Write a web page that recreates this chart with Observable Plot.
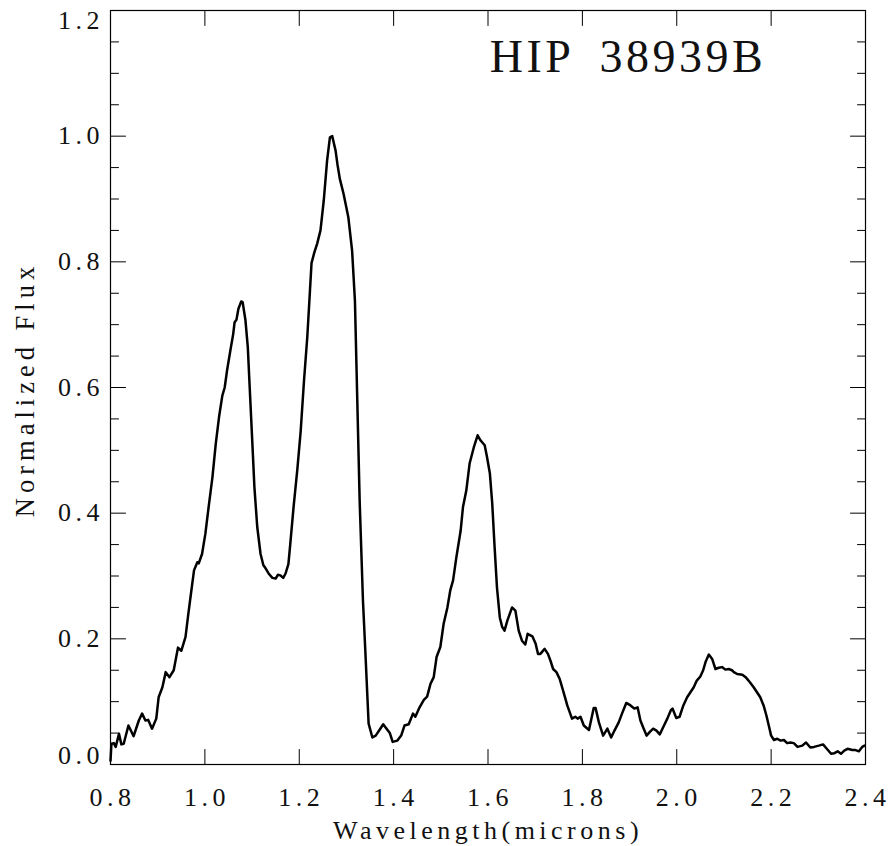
<!DOCTYPE html>
<html><head><meta charset="utf-8">
<script src="https://cdn.jsdelivr.net/npm/d3@7"></script>
<script src="https://cdn.jsdelivr.net/npm/@observablehq/plot@0.6"></script>
<style>
body{margin:0;background:#fff;}
#chart svg text{font-family:"Liberation Serif",serif;letter-spacing:4.5px;}
#chart svg g[font-size="46"] text{letter-spacing:3.5px;word-spacing:12px;}
#chart svg g[font-size="26.5"] text{letter-spacing:5px;}
</style></head><body><div id="chart"></div><script>
const wavelength = [
0.800,0.802,0.807,0.811,0.818,0.823,0.828,0.838,0.849,0.860,0.867,0.874,0.880,0.888,0.897,0.902,0.910,0.917,0.925,0.934,
0.943,0.950,0.959,0.965,0.970,0.977,0.984,0.987,0.994,1.001,1.008,1.016,1.023,1.030,1.037,1.042,1.047,1.054,1.060,1.063,
1.067,1.071,1.077,1.080,1.086,1.091,1.095,1.100,1.105,1.111,1.118,1.124,1.128,1.135,1.143,1.150,1.155,1.160,1.166,1.171,
1.177,1.181,1.188,1.196,1.203,1.210,1.217,1.222,1.226,1.232,1.238,1.245,1.252,1.259,1.265,1.270,1.277,1.281,1.286,1.294,
1.304,1.312,1.318,1.323,1.328,1.335,1.340,1.347,1.355,1.362,1.370,1.378,1.385,1.392,1.398,1.408,1.416,1.423,1.432,1.441,
1.446,1.455,1.464,1.471,1.478,1.485,1.491,1.499,1.506,1.514,1.520,1.526,1.533,1.542,1.547,1.554,1.561,1.570,1.578,1.584,
1.593,1.598,1.604,1.609,1.614,1.619,1.625,1.630,1.635,1.641,1.651,1.658,1.665,1.672,1.679,1.684,1.694,1.701,1.706,1.711,
1.720,1.727,1.732,1.738,1.745,1.752,1.759,1.768,1.778,1.785,1.790,1.796,1.803,1.814,1.824,1.828,1.835,1.844,1.853,1.861,
1.868,1.877,1.884,1.893,1.902,1.910,1.917,1.923,1.930,1.936,1.943,1.950,1.957,1.964,1.971,1.980,1.988,1.991,1.999,2.006,
2.014,2.022,2.029,2.036,2.042,2.050,2.056,2.061,2.068,2.075,2.082,2.089,2.096,2.103,2.110,2.117,2.121,2.128,2.139,2.146,
2.155,2.163,2.170,2.177,2.184,2.190,2.195,2.200,2.206,2.213,2.220,2.227,2.234,2.241,2.248,2.256,2.266,2.274,2.283,2.291,
2.301,2.310,2.318,2.327,2.334,2.341,2.348,2.355,2.362,2.372,2.379,2.386,2.393,2.398];
const flux = [
0.006,0.033,0.034,0.028,0.049,0.032,0.033,0.062,0.045,0.070,0.081,0.070,0.071,0.057,0.073,0.107,0.123,0.147,0.139,0.150,
0.186,0.181,0.203,0.240,0.269,0.309,0.322,0.320,0.335,0.367,0.410,0.457,0.510,0.553,0.587,0.600,0.627,0.659,0.685,0.704,
0.708,0.725,0.737,0.736,0.707,0.664,0.600,0.521,0.441,0.378,0.335,0.317,0.313,0.304,0.297,0.296,0.302,0.301,0.297,0.304,
0.319,0.351,0.410,0.470,0.530,0.610,0.680,0.745,0.798,0.815,0.829,0.850,0.898,0.961,0.998,1.000,0.977,0.955,0.932,0.908,
0.871,0.818,0.738,0.579,0.420,0.261,0.181,0.065,0.043,0.046,0.055,0.064,0.057,0.050,0.036,0.038,0.046,0.062,0.064,0.081,
0.076,0.091,0.103,0.108,0.128,0.139,0.171,0.187,0.224,0.250,0.277,0.293,0.330,0.372,0.410,0.436,0.479,0.505,0.524,0.516,
0.508,0.489,0.463,0.415,0.346,0.282,0.234,0.219,0.213,0.229,0.250,0.245,0.213,0.197,0.191,0.208,0.204,0.192,0.176,0.176,
0.184,0.176,0.166,0.152,0.147,0.136,0.118,0.094,0.073,0.076,0.073,0.076,0.062,0.055,0.090,0.090,0.067,0.046,0.057,0.043,
0.054,0.067,0.081,0.098,0.094,0.089,0.091,0.070,0.057,0.046,0.052,0.057,0.054,0.048,0.059,0.073,0.087,0.089,0.074,0.076,
0.094,0.107,0.115,0.123,0.133,0.140,0.150,0.163,0.175,0.168,0.152,0.154,0.155,0.151,0.152,0.150,0.147,0.144,0.143,0.139,
0.131,0.123,0.115,0.107,0.094,0.078,0.062,0.046,0.039,0.041,0.038,0.039,0.034,0.035,0.034,0.028,0.030,0.035,0.027,0.028,
0.030,0.032,0.025,0.017,0.018,0.021,0.017,0.022,0.025,0.023,0.023,0.021,0.028,0.030];
const xTicks = [0.8,1.0,1.2,1.4,1.6,1.8,2.0,2.2,2.4];
const xTickLabels = ["0.8","1.0","1.2","1.4","1.6","1.8","2.0","2.2","2.4"];
const yTicks = [0.0,0.2,0.4,0.6,0.8,1.0,1.2];
const yTickLabels = ["0.0","0.2","0.4","0.6","0.8","1.0","1.2"];
const yMinorTicks = [0.05,0.10,0.15,0.25,0.30,0.35,0.45,0.50,0.55,0.65,0.70,0.75,0.85,0.90,0.95,1.05,1.10,1.15];
const titleText = "HIP 38939B";
const xLabel = "Wavelength(microns)";
const yLabel = "Normalized Flux";

const spectrum = wavelength.map((w, i) => ({w, f: flux[i]}));
const tickShape = {draw(ctx, l) { ctx.moveTo(0, 0); ctx.lineTo(0, -l); }};
const tk = {anchor: "start", shape: tickShape, stroke: "#000", strokeWidth: 1};
const lastY = yTicks.length - 1;
const lbl = {fontSize: 26, fill: "#111"};

const chart = Plot.plot({
  width: 889, height: 846,
  marginLeft: 110, marginRight: 24, marginTop: 10, marginBottom: 82,
  x: {domain: [0.8, 2.4], axis: null},
  y: {domain: [0, 1.2], axis: null},
  style: {background: "#fff", color: "#000", fontFamily: "Liberation Serif"},
  marks: [
    Plot.vectorX(xTicks, {x: d => d, frameAnchor: "bottom", rotate: 0, length: 15, ...tk}),
    Plot.vectorX(xTicks, {x: d => d, frameAnchor: "top", rotate: 180, length: 15, ...tk}),
    Plot.vectorY(yTicks, {y: d => d, frameAnchor: "left", rotate: 90, length: 15, ...tk}),
    Plot.vectorY(yTicks, {y: d => d, frameAnchor: "right", rotate: -90, length: 15, ...tk}),
    Plot.vectorY(yMinorTicks, {y: d => d, frameAnchor: "left", rotate: 90, length: 8, ...tk}),
    Plot.vectorY(yMinorTicks, {y: d => d, frameAnchor: "right", rotate: -90, length: 8, ...tk}),
    Plot.frame({stroke: "#000", strokeWidth: 1.2}),
    Plot.line(spectrum, {x: "w", y: "f", stroke: "#000", strokeWidth: 2.5, strokeLinejoin: "round"}),
    Plot.text(xTicks, {x: d => d, text: (d, i) => xTickLabels[i], frameAnchor: "bottom", dy: 33, dx: 2, lineAnchor: "middle", ...lbl}),
    Plot.text(yTicks, {filter: (d, i) => i > 0 && i < lastY, y: d => d, text: (d, i) => yTickLabels[i], frameAnchor: "left", textAnchor: "end", dx: -6.5, lineAnchor: "middle", ...lbl}),
    Plot.text([yTicks[0]], {y: d => d, text: () => yTickLabels[0], frameAnchor: "left", textAnchor: "end", dx: -6.5, dy: -9, lineAnchor: "middle", ...lbl}),
    Plot.text([yTicks[lastY]], {y: d => d, text: () => yTickLabels[lastY], frameAnchor: "left", textAnchor: "end", dx: -6.5, dy: 10, lineAnchor: "middle", ...lbl}),
    Plot.text([xLabel], {text: d => d, frameAnchor: "bottom", dy: 66, lineAnchor: "middle", fontSize: 26, fill: "#111"}),
    Plot.text([yLabel], {text: d => d, frameAnchor: "left", dx: -85, dy: 2, rotate: -90, textAnchor: "middle", lineAnchor: "middle", fontSize: 26.5, fill: "#111"}),
    Plot.text([titleText], {text: d => d, frameAnchor: "top", dx: 140, dy: 47, lineAnchor: "middle", fontSize: 46, fill: "#111"})
  ]
});
document.getElementById("chart").appendChild(chart);
</script></body></html>
